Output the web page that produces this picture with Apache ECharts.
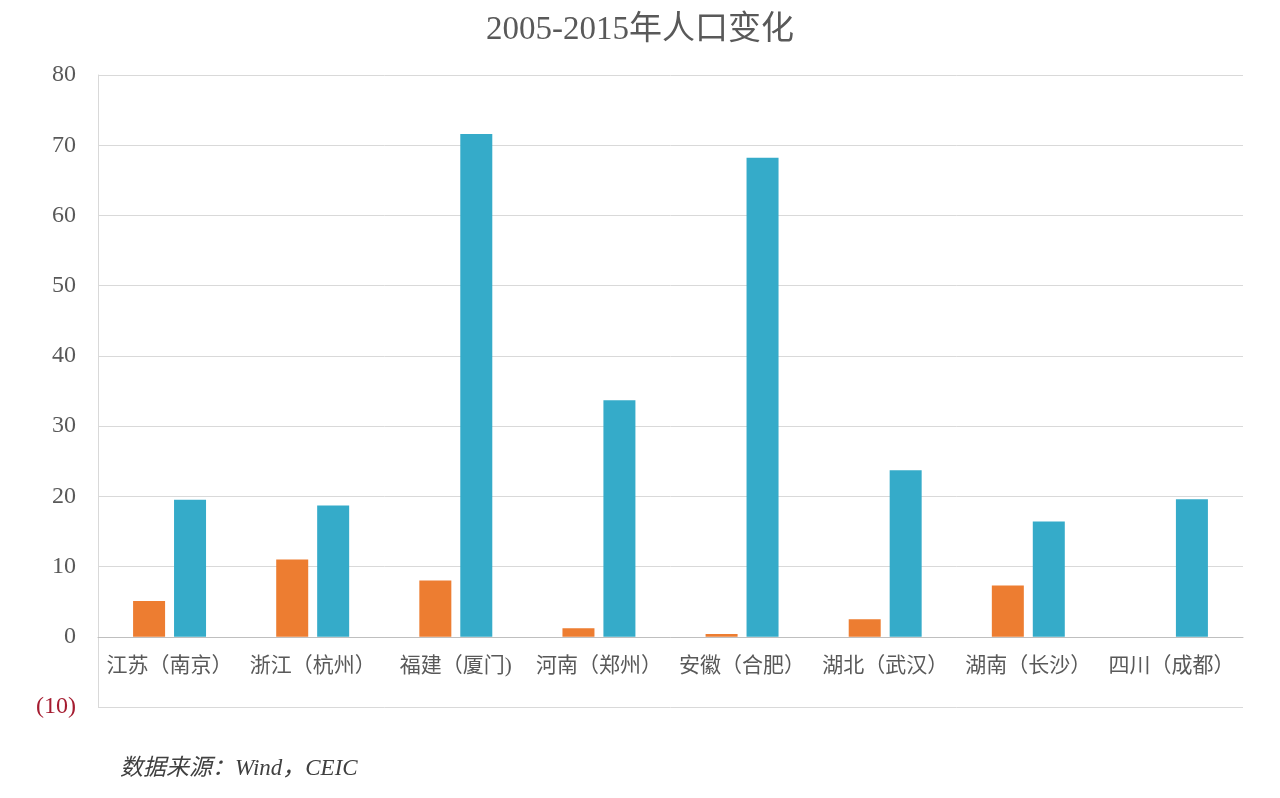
<!DOCTYPE html>
<html>
<head>
<meta charset="utf-8">
<script src="https://cdn.jsdelivr.net/npm/echarts@6/dist/echarts.min.js"></script>
<style>
html,body{margin:0;padding:0;background:#fff;}
#chart{width:1280px;height:798px;}
</style>
</head>
<body>
<div id="chart"></div>
<script>
var categories = ['江苏（南京）','浙江（杭州）','福建（厦门)','河南（郑州）','安徽（合肥）','湖北（武汉）','湖南（长沙）','四川（成都）'];
var provinceValues = [5.1, 11.0, 8.0, 1.2, 0.4, 2.5, 7.3, 0];
var capitalValues = [19.5, 18.7, 71.6, 33.7, 68.2, 23.7, 16.4, 19.6];
var titleText = '2005-2015年人口变化';
var sourceText = '数据来源：Wind，CEIC';

var serif = '"Liberation Serif","DejaVu Serif","Noto Sans CJK SC",serif';
var chart = echarts.init(document.getElementById('chart'));
chart.setOption({
  animation: false,
  backgroundColor: '#ffffff',
  title: {
    text: titleText,
    left: 'center',
    top: 9,
    textStyle: {fontFamily: serif, fontSize: 33, fontWeight: 'normal', color: '#595959'}
  },
  graphic: [{
    type: 'text',
    left: 120,
    top: 757,
    style: {text: sourceText, font: 'italic 23px ' + serif, fill: '#404040'}
  }],
  grid: {left: 98, right: 37, top: 75, bottom: 91, containLabel: false},
  xAxis: {
    type: 'category',
    data: categories,
    offset: -70,
    axisLine: {show: true, lineStyle: {color: '#bfbfbf', width: 1}},
    axisTick: {show: false},
    axisLabel: {fontFamily: serif, fontSize: 21, color: '#595959', margin: 19, interval: 0}
  },
  yAxis: {
    type: 'value',
    min: -10, max: 80, interval: 10,
    axisLine: {show: true, lineStyle: {color: '#d9d9d9'}},
    axisTick: {show: false},
    splitLine: {lineStyle: {color: '#d9d9d9', width: 1}},
    axisLabel: {
      margin: 22,
      fontFamily: serif, fontSize: 24, color: '#595959',
      formatter: function (v) { return v < 0 ? '{neg|(' + (-v) + ')}' : String(v); },
      rich: {neg: {color: '#a51c30', fontFamily: serif, fontSize: 24}}
    }
  },
  series: [
    {name: '省', type: 'bar', data: provinceValues, barWidth: 32, barGap: '28%',
     itemStyle: {color: '#ed7d31'}},
    {name: '省会', type: 'bar', data: capitalValues, barWidth: 32,
     itemStyle: {color: '#35abc9'}}
  ]
});
</script>
</body>
</html>
